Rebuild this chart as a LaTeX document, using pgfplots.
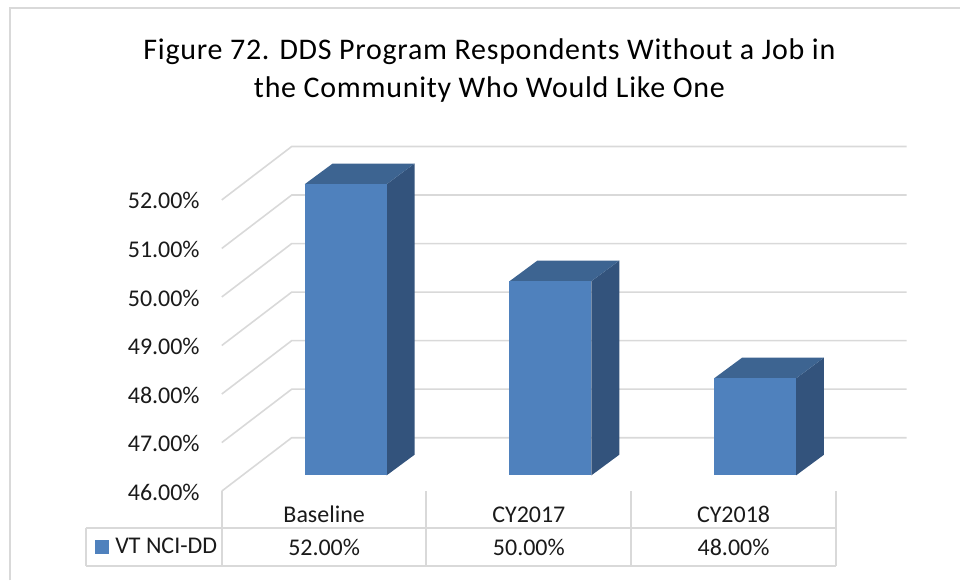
\documentclass[border=0pt]{standalone}
\usepackage{pgfplots}
\pgfplotsset{compat=1.18}
\usepackage{pgfplotstable}
\usepackage{fontspec}
\setmainfont{Carlito}
\definecolor{front}{HTML}{4F81BD}
\definecolor{topc}{HTML}{3D6491}
\definecolor{sidec}{HTML}{33537C}
\definecolor{gridc}{HTML}{D9D9D9}
\definecolor{txt}{HTML}{1A1A1A}

\pgfplotstableread{
x cat v
0.5 Baseline 52
1.5 CY2017 50
2.5 CY2018 48
}\datatable

% 3D geometry (axis units)
\def\fx{0.105}
\def\hw{0.2}
\def\fy{0.323}
\def\ddx{0.1366}
\def\ddy{0.426}

\newcommand\threedbar[2]{%
 \pgfmathsetmacro\xa{#1+\fx-\hw}%
 \pgfmathsetmacro\xb{#1+\fx+\hw}%
 \pgfmathsetmacro\xc{\xb+\ddx}%
 \pgfmathsetmacro\xd{\xa+\ddx}%
 \pgfmathsetmacro\yb{46+\fy}%
 \pgfmathsetmacro\yt{#2+\fy}%
 \pgfmathsetmacro\ybb{\yb+\ddy}%
 \pgfmathsetmacro\ytb{\yt+\ddy}%
 \addplot[fill=sidec, draw=none, forget plot] coordinates {(\xb,\yb) (\xc,\ybb) (\xc,\ytb) (\xb,\yt)} -- cycle;
 \addplot[fill=topc, draw=none, forget plot] coordinates {(\xa,\yt) (\xb,\yt) (\xc,\ytb) (\xd,\ytb)} -- cycle;
 \addplot[fill=front, draw=none, forget plot] coordinates {(\xa,\yb) (\xb,\yb) (\xb,\yt) (\xa,\yt)} -- cycle;
}

\begin{document}
\begin{tikzpicture}
\begin{axis}[
  x=205pt, y=48.6pt,
  xmin=-1.0829, xmax=3.6049, ymin=44.1626, ymax=56.117,
  enlargelimits=false, clip=false,
  axis line style={draw=none},
  major tick length=0pt,
  /pgf/number format/assume math mode=true,
  tick label style={font=\fontsize{24}{28}\selectfont, text=txt},
  ytick={46,47,48,49,50,51,52},
  yticklabel={\pgfmathprintnumber[fixed,fixed zerofill,precision=2]{\tick}\%},
  yticklabel style={anchor=east, inner sep=0pt, xshift=200pt, yshift=-1pt},
  xtick={0.5,1.5,2.5},
  xticklabels from table={\datatable}{cat},
  xticklabel style={anchor=base, inner sep=0pt, yshift=58pt},
  legend style={at={(axis cs:-0.6195,44.858)}, anchor=west, draw=none, fill=none,
     inner sep=0pt, outer sep=0pt, font=\fontsize{24}{28}\selectfont, text=txt,
     nodes={inner sep=0pt}},
]
% outer frame
\draw[gridc, line width=2.5pt] (axis cs:-1.0341,44.1626) -- (axis cs:-1.0341,55.9527) -- (axis cs:3.6049,55.9527);
% walls gridlines
\pgfplotsinvokeforeach{46,47,48,49,50,51,52}{
  \draw[gridc, line width=1.6pt] (axis cs:0,#1) -- (axis cs:0.3415,#1+1.1) -- (axis cs:3.345,#1+1.1);
}
% bars
\threedbar{0.5}{52}
\threedbar{1.5}{50}
\threedbar{2.5}{48}
% data table lines
\draw[gridc, line width=2pt] (axis cs:-0.6634,45.2325) -- (axis cs:3,45.2325);
\draw[gridc, line width=2pt] (axis cs:-0.6634,44.457) -- (axis cs:3,44.457);
\draw[gridc, line width=2pt] (axis cs:-0.6634,45.2325) -- (axis cs:-0.6634,44.457);
\pgfplotsinvokeforeach{0,1,2,3}{
  \draw[gridc, line width=2pt] (axis cs:#1,46) -- (axis cs:#1,44.457);
}
% values row
\addplot[draw=none, forget plot, point meta=explicit,
  nodes near coords={\pgfmathprintnumber[fixed,fixed zerofill,precision=2]{\pgfplotspointmeta}\%},
  nodes near coords align={anchor=base},
  every node near coord/.append style={font=\fontsize{24}{28}\selectfont, text=txt, inner sep=0pt}]
  table[x=x, y expr=44.677, meta=v] {\datatable};
% legend
\addlegendimage{legend image code/.code={\fill[front] (0pt,-6.5pt) rectangle (13pt,6.5pt); \path (20pt,0pt);}}
\addlegendentry{VT NCI-DD}
% title
\node[font=\fontsize{30}{38}\selectfont\addfontfeature{LetterSpace=2.5}, anchor=base, inner sep=0pt, text=black] at (axis cs:1.3073,54.897) {Figure 72. DDS Program Respondents Without a Job in};
\node[font=\fontsize{30}{38}\selectfont\addfontfeature{LetterSpace=2.5}, anchor=base, inner sep=0pt, text=black] at (axis cs:1.3073,54.107) {the Community Who Would Like One};
\end{axis}
\end{tikzpicture}
\end{document}
